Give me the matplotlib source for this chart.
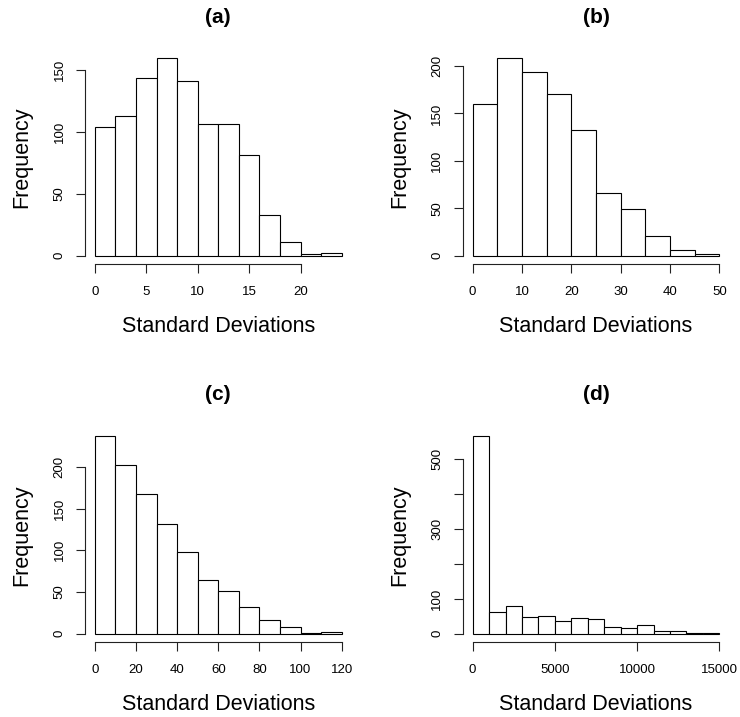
import numpy as np
import matplotlib
matplotlib.use("Agg")
import matplotlib.pyplot as plt

plt.rcParams['font.family'] = ['Liberation Sans', 'DejaVu Sans']

# bin edges and counts
edges_a = [0, 2, 4, 6, 8, 10, 12, 14, 16, 18, 20, 22, 24]
counts_a = [104, 113, 143, 159, 141, 106, 106, 81, 33, 11, 1, 2]

edges_b = [0, 5, 10, 15, 20, 25, 30, 35, 40, 45, 50]
counts_b = [160, 208, 194, 171, 133, 66, 49, 21, 6, 2]

edges_c = [0, 10, 20, 30, 40, 50, 60, 70, 80, 90, 100, 110, 120]
counts_c = [237, 202, 167, 131, 98, 65, 51, 32, 16, 8, 1, 2]

edges_d = [0, 1000, 2000, 3000, 4000, 5000, 6000, 7000, 8000, 9000,
           10000, 11000, 12000, 13000, 14000, 15000]
counts_d = [565, 63, 80, 49, 50, 35, 44, 41, 19, 17, 24, 8, 8, 3, 1]

titles = ["(a)", "(b)", "(c)", "(d)"]
xticks = [[0, 5, 10, 15, 20], [0, 10, 20, 30, 40, 50],
          [0, 20, 40, 60, 80, 100, 120], [0, 5000, 10000, 15000]]
yticks = [[0, 50, 100, 150], [0, 50, 100, 150, 200],
          [0, 50, 100, 150, 200], [0, 100, 200, 300, 400, 500]]
ylabels_d = ["0", "100", "", "300", "", "500"]

W, H = 740, 717
fig = plt.figure(figsize=(W / 100, H / 100), dpi=100)

# axes boxes in pixels: left, right, top, bottom
boxes = [(85, 351.5, 50.6, 263.6), (462.8, 729.2, 50.6, 263.6),
         (85, 351.5, 428.2, 641.6), (462.8, 729.2, 428.2, 641.6)]

data = [(edges_a, counts_a), (edges_b, counts_b),
        (edges_c, counts_c), (edges_d, counts_d)]

for i, ((edges, counts), (l, r, t, b)) in enumerate(zip(data, boxes)):
    ax = fig.add_axes([l / W, 1 - b / H, (r - l) / W, (b - t) / H])
    edges = np.array(edges, dtype=float)
    ax.bar(edges[:-1], counts, width=np.diff(edges), align='edge',
           color='white', edgecolor='black', linewidth=0.8)
    x0, x1 = edges[0], edges[-1]
    pad = 0.04 * (x1 - x0)
    ax.set_xlim(x0 - pad, x1 + pad)
    ymax = max(counts)
    ax.set_ylim(-0.04 * ymax, 1.04 * ymax)

    for s in ['top', 'right']:
        ax.spines[s].set_visible(False)
    for s in ['left', 'bottom']:
        ax.spines[s].set_linewidth(0.8)
        ax.spines[s].set_color('#222222')
    ax.spines['bottom'].set_bounds(xticks[i][0], xticks[i][-1])
    ax.spines['left'].set_bounds(yticks[i][0], yticks[i][-1])

    ax.set_xticks(xticks[i])
    ax.set_yticks(yticks[i])
    if i == 3:
        ax.set_yticklabels(ylabels_d)
    ax.tick_params(axis='both', direction='out', length=6.5, width=0.8,
                   color='#222222', labelsize=9.5)
    ax.tick_params(axis='x', pad=9.5)
    ax.tick_params(axis='y', pad=7.5)
    plt.setp(ax.get_yticklabels(), rotation=90, va='center')

    ax.set_xlabel("Standard Deviations", fontsize=15.5, labelpad=13)
    ax.set_ylabel("Frequency", fontsize=15.5, labelpad=15.5)
    ax.set_title(titles[i], fontsize=15, fontweight='bold', pad=20)

fig.savefig("out.png", dpi=100)
